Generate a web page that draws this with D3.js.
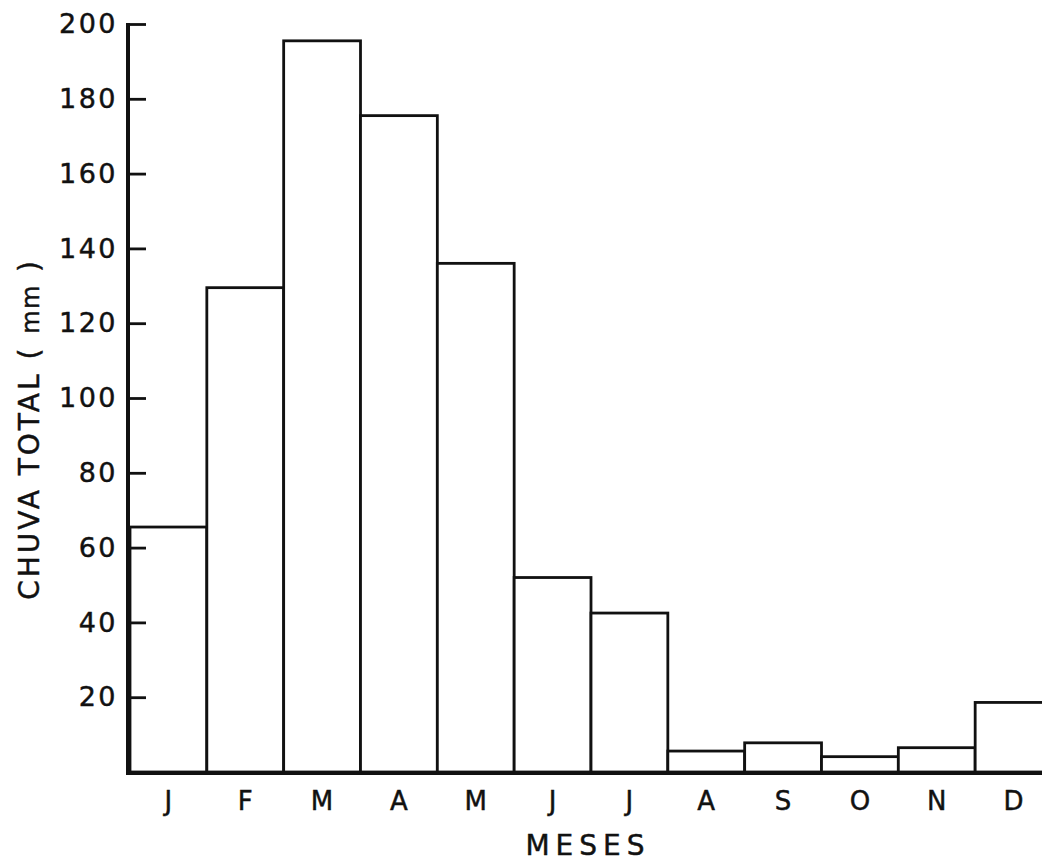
<!DOCTYPE html>
<html>
<head>
<meta charset="utf-8">
<script src="https://cdn.jsdelivr.net/npm/d3@7"></script>
<style>
  html, body { margin: 0; padding: 0; background: #fff; }
  svg { display: block; }
  text { font-family: "DejaVu Sans", sans-serif; fill: #111; stroke: #111; stroke-width: 0.45px; }
</style>
</head>
<body>
<div id="app"></div>
<script>
const width = 1042,
  height = 863,
  margin = { top: 24, right: 0, bottom: 91, left: 128 };

// monthly total rainfall (mm)
const months = ["J", "F", "M", "A", "M ", "J ", "J  ", "A ", "S", "O", "N", "D"];
const monthLabels = ["J", "F", "M", "A", "M", "J", "J", "A", "S", "O", "N", "D"];
const rainfall = [65.5, 129.5, 195.5, 175.5, 136, 52, 42.5, 5.6, 7.8, 4.1, 6.5, 18.6];
const yTicks = [20, 40, 60, 80, 100, 120, 140, 160, 180, 200];

const xScale = d3
  .scaleBand()
  .domain(months)
  .range([130, 1052])
  .padding(0);

const yScale = d3
  .scaleLinear()
  .domain([0, 200])
  .range([height - margin.bottom, margin.top]);

const svg = d3
  .select("#app")
  .append("svg")
  .attr("width", width)
  .attr("height", height);

// bars
svg
  .append("g")
  .attr("class", "bars")
  .selectAll("rect")
  .data(rainfall)
  .join("rect")
  .attr("x", (d, i) => xScale(months[i]))
  .attr("y", (d) => yScale(d))
  .attr("width", xScale.bandwidth())
  .attr("height", (d) => yScale(0) - yScale(d))
  .attr("fill", "#fff")
  .attr("stroke", "#111")
  .attr("stroke-width", 2.8);

// y axis, ticks pointing inward
svg
  .append("g")
  .attr("class", "y-axis")
  .attr("transform", `translate(${margin.left},0)`)
  .call(d3.axisLeft(yScale).tickValues(yTicks).tickSize(-18).tickSizeOuter(0).tickPadding(10))
  .call((g) => g.select(".domain").remove())
  .call((g) => g.selectAll(".tick line").attr("stroke", "#111").attr("stroke-width", 2.8))
  .call((g) =>
    g.selectAll(".tick text")
      .attr("font-size", 27)
      .attr("letter-spacing", 2.5)
      .attr("font-family", "DejaVu Sans, sans-serif")
  );

svg
  .append("line")
  .attr("x1", margin.left)
  .attr("x2", margin.left)
  .attr("y1", yScale(200) - 1)
  .attr("y2", yScale(0) + 2)
  .attr("stroke", "#111")
  .attr("stroke-width", 4);

// x axis
svg
  .append("g")
  .attr("class", "x-axis")
  .attr("transform", `translate(0,${yScale(0)})`)
  .call(d3.axisBottom(xScale).tickSize(0).tickPadding(20).tickFormat((d, i) => monthLabels[i]))
  .call((g) => g.select(".domain").remove())
  .call((g) =>
    g.selectAll(".tick text")
      .attr("font-size", 26)
      .attr("font-family", "DejaVu Sans, sans-serif")
  );

svg
  .append("line")
  .attr("x1", margin.left - 2)
  .attr("x2", width)
  .attr("y1", yScale(0) + 1)
  .attr("y2", yScale(0) + 1)
  .attr("stroke", "#111")
  .attr("stroke-width", 4);

// axis titles
svg
  .append("text")
  .attr("x", 588)
  .attr("y", 855)
  .attr("text-anchor", "middle")
  .attr("font-size", 28)
  .attr("letter-spacing", 6)
  .text("MESES");

const yTitle = svg
  .append("text")
  .attr("transform", `translate(39,429) rotate(-90)`)
  .attr("text-anchor", "middle")
  .attr("font-size", 28)
  .attr("letter-spacing", 3);
yTitle.append("tspan").text("CHUVA TOTAL ( ");
yTitle.append("tspan").attr("font-size", 24).attr("letter-spacing", 1.5).text("mm");
yTitle.append("tspan").text(" )");
</script>
</body>
</html>
